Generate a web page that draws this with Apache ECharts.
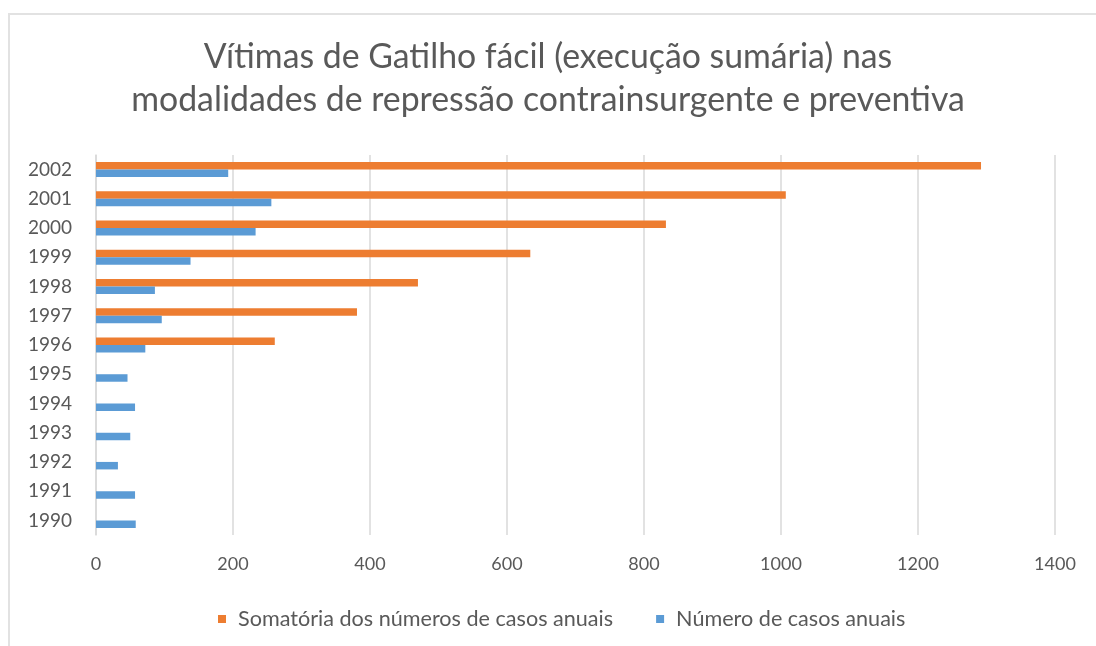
<!DOCTYPE html>
<html>
<head>
<meta charset="utf-8">
<style>
  html, body { margin: 0; padding: 0; background: #ffffff; }
  #chart { width: 1096px; height: 646px; }
</style>
<script src="https://cdn.jsdelivr.net/npm/echarts@6/dist/echarts.min.js"></script>
</head>
<body>
<div id="chart"></div>
<script>
const titleText = 'Vítimas de Gatilho fácil (execução sumária) nas\nmodalidades de repressão contrainsurgente e preventiva';
const years = ['1990','1991','1992','1993','1994','1995','1996','1997','1998','1999','2000','2001','2002'];
const somatoriaName = 'Somatória dos números de casos anuais';
const numeroName = 'Número de casos anuais';
const somatoria = [null, null, null, null, null, null, 261, 381, 470, 634, 832, 1007, 1292];
const numero = [58, 57, 32, 50, 57, 46, 72, 96, 86, 138, 233, 256, 193];
const xTicks = { min: 0, max: 1400, interval: 200 };

const FONT = 'Lato';
const chart = echarts.init(document.getElementById('chart'), null, { renderer: 'canvas' });
chart.setOption({
  backgroundColor: '#ffffff',
  animation: false,
  graphic: [{
    type: 'rect', silent: true, z: -1,
    shape: { x: 9, y: 14, width: 1200, height: 800 },
    style: { fill: 'none', stroke: '#e2e2e2', lineWidth: 2 }
  }],
  title: {
    text: titleText,
    left: 'center',
    top: 31,
    textStyle: { fontFamily: FONT, fontSize: 33.8, fontWeight: 'normal', color: '#595959', lineHeight: 43 }
  },
  legend: {
    left: 213,
    top: 603,
    itemWidth: 8,
    itemHeight: 8,
    itemGap: 43,
    icon: 'rect',
    textStyle: { fontFamily: FONT, fontSize: 21.6, color: '#595959', padding: [0, 0, 0, 7] },
    data: [somatoriaName, numeroName]
  },
  grid: { left: 96, right: 41, top: 155, bottom: 111, containLabel: false },
  xAxis: {
    type: 'value',
    min: xTicks.min, max: xTicks.max, interval: xTicks.interval,
    axisLine: { show: false },
    axisTick: { show: false },
    splitLine: { show: true, lineStyle: { color: '#d9d9d9', width: 1.5 } },
    axisLabel: { fontFamily: FONT, fontSize: 18, color: '#595959', margin: 20, formatter: function (v) { return String(v); } }
  },
  yAxis: {
    type: 'category',
    data: years,
    axisLine: { show: true, lineStyle: { color: '#d9d9d9', width: 1.5 } },
    axisTick: { show: false },
    axisLabel: { fontFamily: FONT, fontSize: 19, color: '#595959', margin: 24 }
  },
  series: [
    {
      name: somatoriaName, type: 'bar', data: somatoria,
      barWidth: 7.5, barGap: '0%',
      itemStyle: { color: '#ED7D31' }
    },
    {
      name: numeroName, type: 'bar', data: numero,
      barWidth: 7.5, barGap: '0%',
      itemStyle: { color: '#5B9BD5' }
    }
  ]
});
</script>
</body>
</html>
